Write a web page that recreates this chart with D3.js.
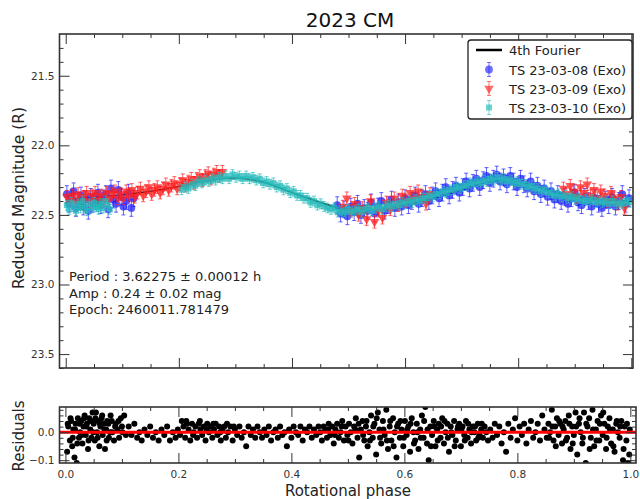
<!DOCTYPE html>
<html>
<head>
<meta charset="utf-8">
<script src="https://cdn.jsdelivr.net/npm/d3@7"></script>
<style>
  body { margin: 0; background: #fff; }
  svg { font-family: "DejaVu Sans", sans-serif; }
</style>
</head>
<body>
<svg id="chart" width="640" height="499"></svg>
<script>
// series names and errors
const seriesNames = ["TS 23-03-08 (Exo)", "TS 23-03-09 (Exo)", "TS 23-03-10 (Exo)"]
const seriesErr = [0.06, 0.045, 0.035]

// 4th order Fourier fit
const fitPhase = [0, 0.05, 0.1, 0.15, 0.2, 0.25, 0.3, 0.35, 0.4, 0.45, 0.5, 0.55, 0.6, 0.65, 0.7, 0.75, 0.8, 0.85, 0.9, 0.95, 1.0]
const fitMag = [22.395, 22.375, 22.355, 22.33, 22.295, 22.255, 22.235, 22.265, 22.34, 22.41, 22.47, 22.46, 22.425, 22.38, 22.32, 22.26, 22.265, 22.32, 22.37, 22.395, 22.40]

// [phase, magnitude]
const bluePoints = [
  [0.002,22.35],[0.006,22.42],[0.010,22.38],[0.014,22.33],[0.018,22.45],[0.022,22.40],[0.027,22.36],[0.031,22.44],
  [0.035,22.39],[0.040,22.47],[0.044,22.37],[0.048,22.42],[0.053,22.40],[0.057,22.34],[0.062,22.43],[0.066,22.38],
  [0.071,22.35],[0.075,22.46],[0.080,22.31],[0.084,22.39],[0.089,22.42],[0.093,22.32],[0.098,22.37],[0.102,22.44],
  [0.107,22.40],[0.111,22.34],[0.116,22.45],[0.120,22.38],
  [0.480,22.43],[0.486,22.49],[0.492,22.46],[0.498,22.51],[0.504,22.44],[0.510,22.48],[0.516,22.42],[0.522,22.50],
  [0.528,22.45],[0.534,22.47],[0.540,22.41],[0.546,22.49],[0.552,22.44],[0.558,22.40],[0.564,22.47],[0.570,22.43],
  [0.576,22.39],[0.582,22.45],[0.588,22.41],[0.594,22.44],[0.600,22.38],[0.606,22.43],[0.612,22.40],[0.618,22.36],
  [0.624,22.42],[0.630,22.38],[0.636,22.35],[0.642,22.40],[0.648,22.36],[0.654,22.33],[0.660,22.38],[0.666,22.34],
  [0.672,22.30],[0.678,22.36],[0.684,22.32],[0.690,22.29],[0.696,22.34],[0.702,22.30],[0.708,22.26],[0.714,22.31],
  [0.720,22.27],[0.726,22.24],[0.732,22.30],[0.738,22.25],[0.744,22.22],[0.750,22.27],[0.756,22.24],[0.762,22.21],
  [0.768,22.26],[0.774,22.23],[0.780,22.28],[0.786,22.22],[0.792,22.26],[0.798,22.30],[0.804,22.24],[0.810,22.28],
  [0.816,22.31],[0.822,22.26],[0.828,22.33],[0.834,22.29],[0.840,22.35],[0.846,22.31],[0.852,22.37],[0.858,22.33],
  [0.864,22.39],[0.870,22.35],[0.876,22.40],[0.882,22.37],[0.888,22.42],[0.894,22.38],[0.900,22.34],[0.906,22.41],
  [0.912,22.43],[0.918,22.37],[0.924,22.40],[0.930,22.44],[0.936,22.38],[0.942,22.42],[0.948,22.45],[0.954,22.39],
  [0.960,22.43],[0.966,22.37],[0.972,22.44],[0.978,22.40],[0.984,22.35],[0.990,22.42],[0.996,22.38]
]

const redPoints = [
  [0.002,22.37],[0.007,22.40],[0.012,22.36],[0.017,22.39],[0.022,22.35],[0.027,22.41],[0.032,22.37],[0.037,22.34],
  [0.042,22.40],[0.047,22.36],[0.052,22.34],[0.057,22.39],[0.062,22.36],[0.067,22.40],[0.072,22.34],[0.077,22.38],
  [0.082,22.35],[0.087,22.33],[0.092,22.38],[0.097,22.35],[0.102,22.38],[0.107,22.33],[0.112,22.36],[0.117,22.32],
  [0.122,22.37],[0.127,22.34],[0.132,22.31],[0.137,22.36],[0.142,22.33],[0.147,22.30],[0.152,22.35],[0.157,22.32],
  [0.162,22.30],[0.167,22.34],[0.172,22.31],[0.177,22.28],[0.182,22.32],[0.187,22.29],[0.192,22.27],[0.197,22.31],
  [0.202,22.28],[0.207,22.25],[0.212,22.29],[0.217,22.26],[0.222,22.24],[0.227,22.27],[0.232,22.24],[0.237,22.22],
  [0.242,22.25],[0.247,22.22],[0.252,22.20],[0.257,22.24],[0.262,22.21],[0.267,22.19],[0.272,22.22],[0.277,22.19],
  [0.490,22.44],[0.497,22.38],[0.504,22.47],[0.511,22.42],[0.518,22.50],[0.525,22.45],[0.532,22.53],[0.539,22.40],
  [0.546,22.55],[0.553,22.47],[0.560,22.52],[0.567,22.41],[0.574,22.46],[0.581,22.38],[0.588,22.43],[0.595,22.36],
  [0.602,22.40],[0.609,22.34],[0.616,22.38],[0.623,22.33],[0.630,22.37],[0.637,22.42],[0.644,22.35],
  [0.880,22.31],[0.886,22.35],[0.892,22.29],[0.898,22.33],[0.904,22.37],[0.910,22.30],[0.916,22.34],[0.922,22.28],
  [0.928,22.36],[0.934,22.32],[0.940,22.38],[0.946,22.33],[0.952,22.36],[0.958,22.40],[0.964,22.34],[0.970,22.38],
  [0.976,22.42],[0.982,22.37],[0.988,22.45]
]

const cyanPoints = [
  [0.002,22.43],[0.006,22.46],[0.010,22.41],[0.014,22.44],[0.018,22.47],[0.022,22.42],[0.026,22.45],[0.030,22.40],
  [0.034,22.44],[0.038,22.47],[0.042,22.42],[0.046,22.45],[0.050,22.41],[0.054,22.44],[0.058,22.46],[0.062,22.42],
  [0.066,22.45],[0.070,22.40],[0.074,22.43],[0.078,22.46],
  [0.205,22.32],[0.211,22.30],[0.217,22.31],[0.223,22.28],[0.229,22.29],[0.235,22.26],[0.241,22.27],[0.247,22.25],
  [0.253,22.26],[0.259,22.24],[0.265,22.25],[0.271,22.23],[0.277,22.24],[0.283,22.22],[0.289,22.24],[0.295,22.21],
  [0.301,22.23],[0.307,22.22],[0.313,22.24],[0.319,22.22],[0.325,22.24],[0.331,22.23],[0.337,22.25],[0.343,22.24],
  [0.349,22.27],[0.355,22.26],[0.361,22.28],[0.367,22.27],[0.373,22.30],[0.379,22.29],[0.385,22.32],[0.391,22.31],
  [0.397,22.34],[0.403,22.33],[0.409,22.36],[0.415,22.36],[0.421,22.38],[0.427,22.38],[0.433,22.41],[0.439,22.40],
  [0.445,22.43],[0.451,22.42],[0.457,22.44],[0.463,22.45],[0.469,22.46],[0.475,22.45],[0.481,22.48],[0.487,22.47],
  [0.493,22.48],[0.499,22.46],[0.505,22.48],[0.511,22.47],[0.517,22.46],[0.523,22.48],[0.529,22.46],[0.535,22.45],
  [0.541,22.47],[0.547,22.45],[0.553,22.44],[0.559,22.46],[0.565,22.44],[0.571,22.43],[0.577,22.44],[0.583,22.42],
  [0.589,22.43],[0.595,22.41],[0.601,22.42],[0.607,22.40],[0.613,22.41],[0.619,22.39],[0.625,22.40],[0.631,22.38],
  [0.637,22.38],[0.643,22.36],[0.649,22.37],[0.655,22.35],[0.661,22.35],[0.667,22.33],[0.673,22.34],[0.679,22.32],
  [0.685,22.32],[0.691,22.30],[0.697,22.31],[0.703,22.29],[0.709,22.29],[0.715,22.27],[0.721,22.28],[0.727,22.26],
  [0.733,22.27],[0.739,22.25],[0.745,22.26],[0.751,22.24],[0.757,22.25],[0.763,22.23],[0.769,22.25],[0.775,22.24],
  [0.781,22.26],[0.787,22.25],[0.793,22.27],[0.799,22.26],[0.805,22.28],[0.811,22.28],[0.817,22.30],[0.823,22.29],
  [0.829,22.31],[0.835,22.31],[0.841,22.33],[0.847,22.32],[0.853,22.34],[0.859,22.34],[0.865,22.36],[0.871,22.35],
  [0.877,22.37],[0.883,22.36],[0.889,22.38],[0.895,22.37],[0.901,22.39],[0.907,22.38],[0.913,22.40],[0.919,22.39],
  [0.925,22.40],[0.931,22.39],[0.937,22.41],[0.943,22.40],[0.949,22.41],[0.955,22.40],[0.961,22.42],[0.967,22.40],
  [0.973,22.42],[0.979,22.41],[0.985,22.42],[0.991,22.40],[0.997,22.41]
]

// residuals panel, [phase, residual]
const residuals = [
  [0.003,-0.07],[0.005,0.02],[0.008,-0.03],[0.010,0.04],[0.012,-0.05],[0.014,0.01],[0.016,-0.09],[0.018,0.03],
  [0.020,-0.11],[0.022,0.05],[0.024,-0.02],[0.026,0.00],[0.028,0.04],[0.030,-0.04],[0.032,0.02],[0.034,0.06],
  [0.036,-0.01],[0.038,0.03],[0.040,-0.06],[0.042,0.05],[0.044,0.01],[0.046,-0.02],[0.048,0.07],[0.050,0.03],
  [0.052,-0.03],[0.054,0.07],[0.056,0.00],[0.058,0.04],[0.060,-0.05],[0.062,0.02],[0.064,0.05],[0.066,-0.01],
  [0.068,0.03],[0.070,-0.06],[0.072,0.01],[0.074,0.04],[0.077,-0.02],[0.080,0.06],[0.083,0.00],[0.086,-0.03],
  [0.089,0.03],[0.092,0.01],[0.095,-0.02],[0.098,0.05],[0.101,0.00],[0.104,0.06],[0.107,-0.01],
  [0.004,0.03],[0.009,0.05],[0.013,-0.02],[0.017,0.01],[0.021,-0.04],[0.025,0.03],[0.029,-0.01],[0.033,0.05],
  [0.037,0.02],[0.041,-0.03],[0.045,0.04],[0.049,0.00],[0.053,0.05],[0.057,-0.02],[0.061,0.03],[0.065,0.06],
  [0.069,0.01],[0.073,-0.03],[0.076,0.03],[0.079,0.00],[0.082,0.04],[0.088,0.02],[0.094,0.04],[0.100,0.02],
  [0.112,0.02],[0.117,-0.01],[0.122,0.03],[0.127,-0.02],[0.131,0.00],[0.135,-0.03],[0.140,0.01],[0.145,-0.01],
  [0.150,0.02],[0.155,-0.02],[0.160,0.00],[0.165,-0.03],[0.170,0.01],[0.175,-0.01],[0.180,0.02],[0.185,-0.03],
  [0.190,0.00],[0.195,-0.02],[0.199,0.01],
  [0.203,-0.01],[0.206,0.04],[0.209,0.02],[0.212,-0.02],[0.215,0.03],[0.218,0.01],[0.221,-0.03],[0.224,0.03],
  [0.227,0.00],[0.230,0.02],[0.233,-0.02],[0.236,0.03],[0.239,0.01],[0.242,-0.01],[0.245,0.02],[0.248,-0.03],
  [0.251,0.03],[0.254,0.00],[0.257,0.02],[0.260,-0.02],[0.263,0.01],[0.266,0.03],[0.269,-0.01],[0.272,0.02],
  [0.275,-0.03],[0.278,0.01],[0.281,0.02],[0.284,-0.02],[0.288,0.00],[0.292,0.02],[0.296,-0.03],[0.300,0.01],
  [0.214,0.04],[0.226,-0.01],[0.238,0.04],[0.250,0.01],[0.262,0.03],[0.274,0.00],[0.286,0.03],[0.298,0.02],
  [0.304,-0.01],[0.308,0.02],[0.312,-0.02],[0.316,0.00],[0.320,-0.05],[0.324,0.02],[0.328,-0.01],[0.332,0.01],
  [0.336,-0.02],[0.340,0.02],[0.344,0.00],[0.348,-0.02],[0.352,0.01],[0.356,-0.01],[0.360,0.02],[0.364,-0.03],
  [0.368,0.00],[0.372,0.01],[0.376,-0.02],[0.380,0.02],[0.384,-0.01],[0.388,0.00],[0.392,-0.05],[0.396,0.01],
  [0.400,-0.02],[0.404,0.02],[0.408,0.00],[0.412,-0.01],[0.416,0.02],[0.420,-0.03],[0.424,0.01],[0.428,0.00],
  [0.432,0.02],[0.436,-0.02],[0.440,0.01],[0.444,-0.01],[0.448,0.02],
  [0.451,0.00],[0.454,-0.03],[0.457,0.02],[0.460,0.01],[0.463,-0.02],[0.466,0.03],[0.469,-0.01],[0.472,0.02],
  [0.475,-0.04],[0.478,0.01],[0.481,0.03],[0.484,-0.02],[0.487,0.00],[0.490,0.04],[0.493,-0.03],[0.496,0.02],
  [0.499,-0.01],[0.502,0.03],[0.505,0.00],[0.508,-0.04],[0.511,0.02],[0.514,0.05],[0.517,-0.02],[0.520,-0.09],
  [0.523,0.01],[0.526,0.04],[0.529,-0.03],[0.532,0.02],[0.535,-0.05],[0.538,0.00],[0.541,0.06],[0.544,-0.02],
  [0.547,0.03],[0.550,-0.08],[0.553,0.07],[0.556,0.01],[0.559,-0.04],[0.562,0.04],[0.565,-0.01],[0.568,0.08],
  [0.571,-0.06],[0.574,0.02],[0.577,-0.03],[0.580,0.05],[0.583,0.00],[0.586,-0.09],[0.589,0.03],[0.592,-0.02],
  [0.595,0.01],[0.598,-0.05],[0.601,0.04],[0.604,-0.01],[0.607,0.02],[0.610,-0.07],[0.613,0.05],[0.616,0.00],
  [0.619,-0.03],[0.622,0.03],[0.625,-0.06],[0.628,0.01],[0.631,0.06],[0.634,-0.02],[0.637,0.09],[0.640,-0.04],
  [0.643,-0.10],[0.646,0.02],[0.649,-0.01],[0.652,0.04],[0.655,-0.05],[0.658,0.01],[0.661,0.03],[0.664,-0.02],
  [0.667,0.05],[0.670,-0.04],[0.673,0.00],[0.676,0.03],[0.679,-0.07],[0.682,0.02],[0.685,-0.01],[0.688,0.04],
  [0.691,-0.03],[0.694,0.01],[0.697,0.03],[0.700,-0.05],[0.703,0.02],[0.706,-0.01],[0.709,0.04],[0.712,-0.02],
  [0.715,0.01],[0.718,-0.04],[0.721,0.02],[0.724,0.00],[0.727,-0.03],[0.730,0.03],[0.733,-0.01],[0.736,0.01],
  [0.739,-0.02],[0.742,0.02],[0.745,0.00],[0.748,-0.03],
  [0.465,0.01],[0.477,-0.01],[0.489,0.02],[0.501,-0.03],[0.513,0.01],[0.519,0.03],[0.527,-0.01],[0.533,0.04],
  [0.539,-0.03],[0.545,0.02],[0.551,0.05],[0.557,-0.02],[0.563,0.01],[0.569,-0.03],[0.575,0.04],[0.581,-0.05],
  [0.587,0.02],[0.593,0.04],[0.599,-0.02],[0.605,0.01],[0.611,0.03],[0.617,-0.04],[0.623,0.00],[0.629,-0.02],
  [0.635,0.04],[0.641,0.01],[0.647,-0.05],[0.653,0.02],[0.659,-0.03],[0.665,0.02],[0.671,0.04],[0.677,-0.02],
  [0.683,0.00],[0.689,-0.05],[0.695,0.02],[0.701,0.01],[0.707,-0.03],[0.713,0.03],[0.719,0.00],[0.725,0.02],
  [0.731,-0.02],[0.737,0.03],
  [0.752,0.01],[0.756,-0.02],[0.760,0.03],[0.764,-0.01],[0.768,0.02],[0.772,-0.04],[0.776,0.00],[0.780,-0.07],
  [0.784,0.03],[0.788,-0.02],[0.792,0.01],[0.796,0.05],[0.800,-0.03],[0.804,0.02],[0.808,-0.01],[0.812,0.03],
  [0.816,-0.04],[0.820,0.01],[0.824,0.04],[0.828,-0.02],[0.832,0.00],[0.836,0.03],[0.840,-0.03],[0.844,0.06],
  [0.848,0.01],[0.852,-0.02],
  [0.855,0.03],[0.858,0.00],[0.861,0.08],[0.864,-0.03],[0.867,0.02],[0.870,0.05],[0.873,-0.01],[0.876,0.03],
  [0.879,-0.04],[0.882,0.01],[0.885,0.04],[0.888,-0.02],[0.891,0.06],[0.894,-0.06],[0.897,0.02],[0.900,-0.01],
  [0.903,0.07],[0.906,-0.08],[0.909,0.03],[0.912,0.00],[0.915,-0.04],[0.918,0.07],[0.921,-0.11],[0.924,0.02],
  [0.927,0.05],[0.930,-0.02],[0.933,0.08],[0.936,-0.05],[0.939,0.01],[0.942,0.04],[0.945,-0.03],[0.948,0.06],
  [0.951,-0.01],[0.954,0.03],[0.957,-0.06],[0.960,0.02],[0.963,0.05],[0.966,-0.04],[0.969,0.01],[0.972,-0.07],
  [0.975,0.03],[0.978,0.00],[0.981,-0.02],[0.984,0.04],[0.987,-0.10],[0.990,0.02],[0.993,-0.03],[0.996,-0.11],
  [0.999,0.01],
  [0.856,-0.02],[0.862,0.02],[0.868,-0.05],[0.874,0.04],[0.880,0.02],[0.886,-0.03],[0.892,0.03],[0.898,-0.04],
  [0.904,0.02],[0.910,0.05],[0.916,-0.02],[0.922,0.03],[0.928,-0.06],[0.934,0.01],[0.940,-0.03],[0.946,0.03],
  [0.952,0.07],[0.958,-0.02],[0.964,0.01],[0.970,-0.05],[0.976,0.04],[0.982,0.02],[0.988,-0.06],[0.994,0.03],
  [0.998,-0.08]
]

const xTicks = [0, 0.2, 0.4, 0.6, 0.8, 1.0]
const yTicks = [21.5, 22.0, 22.5, 23.0, 23.5]
const resTicks = [0.0, -0.1]
const infoLines = ["Period : 3.62275 \u00b1 0.00012 h", "Amp : 0.24 \u00b1 0.02 mag", "Epoch: 2460011.781479"]

const colors = ["#2020ff", "#ff2020", "#25baba"]

const svg = d3.select("#chart")

const main = { left: 59.5, right: 633, top: 34, bottom: 368 }
const res = { left: 59.5, right: 636, top: 407, bottom: 463 }

const x = d3.scaleLinear().domain([-0.011, 1.003]).range([main.left, main.right])
const y = d3.scaleLinear().domain([21.2, 23.6]).range([main.top, main.bottom])
const xr = d3.scaleLinear().domain([-0.0105, 1.01]).range([res.left, res.right])
const yr = d3.scaleLinear().domain([0.09, -0.11]).range([res.top, res.bottom])

function styleAxis(g) {
  g.select(".domain").remove()
  g.selectAll(".tick line").attr("stroke", "#333").attr("stroke-width", 1)
  g.selectAll(".tick text").attr("fill", "#333").attr("font-size", 10.5)
    .attr("font-family", "DejaVu Sans, sans-serif")
}

function addAxes(xs, ys, box, yMajor, yMinor, xLabels, yFmt) {
  const xMinor = d3.range(0, 1.001, 0.05).filter(v => Math.abs(v * 5 - Math.round(v * 5)) > 1e-6)
  svg.append("g").attr("transform", `translate(0,${box.bottom})`)
    .call(d3.axisBottom(xs).tickValues(xTicks).tickSize(-10).tickPadding(8)
      .tickFormat(xLabels ? d3.format(".1f") : ""))
    .call(styleAxis)
  svg.append("g").attr("transform", `translate(0,${box.bottom})`)
    .call(d3.axisBottom(xs).tickValues(xMinor).tickSize(-4).tickFormat(""))
    .call(styleAxis)
  svg.append("g").attr("transform", `translate(0,${box.top})`)
    .call(d3.axisTop(xs).tickValues(xTicks).tickSize(-10).tickFormat(""))
    .call(styleAxis)
  svg.append("g").attr("transform", `translate(0,${box.top})`)
    .call(d3.axisTop(xs).tickValues(xMinor).tickSize(-4).tickFormat(""))
    .call(styleAxis)
  svg.append("g").attr("transform", `translate(${box.left},0)`)
    .call(d3.axisLeft(ys).tickValues(yMajor).tickSize(-10).tickPadding(5).tickFormat(yFmt))
    .call(styleAxis)
  svg.append("g").attr("transform", `translate(${box.left},0)`)
    .call(d3.axisLeft(ys).tickValues(yMinor).tickSize(-4).tickFormat(""))
    .call(styleAxis)
  svg.append("g").attr("transform", `translate(${box.right},0)`)
    .call(d3.axisRight(ys).tickValues(yMajor).tickSize(-10).tickFormat(""))
    .call(styleAxis)
  svg.append("g").attr("transform", `translate(${box.right},0)`)
    .call(d3.axisRight(ys).tickValues(yMinor).tickSize(-4).tickFormat(""))
    .call(styleAxis)
  svg.append("rect")
    .attr("x", box.left).attr("y", box.top)
    .attr("width", box.right - box.left).attr("height", box.bottom - box.top)
    .attr("fill", "none").attr("stroke", "#333").attr("stroke-width", 1.6)
}

// clip for main panel
svg.append("clipPath").attr("id", "clipMain").append("rect")
  .attr("x", main.left).attr("y", main.top)
  .attr("width", main.right - main.left).attr("height", main.bottom - main.top)

const plot = svg.append("g").attr("clip-path", "url(#clipMain)")

// fit line underneath the points
const fitLine = d3.line()
  .x(d => x(d[0])).y(d => y(d[1]))
  .curve(d3.curveCatmullRom)

plot.append("path")
  .datum(d3.zip(fitPhase, fitMag))
  .attr("d", fitLine)
  .attr("fill", "none").attr("stroke", "#000").attr("stroke-width", 1.6)

const symbols = [
  d3.symbol(d3.symbolCircle, 48),
  d3.symbol(d3.symbolTriangle, 40),
  d3.symbol(d3.symbolSquare, 36)
]

function errorPath(px, py1, py2) {
  return `M${px},${py1}V${py2}M${px - 2},${py1}H${px + 2}M${px - 2},${py2}H${px + 2}`
}

const allSeries = [bluePoints, redPoints, cyanPoints]

allSeries.forEach((pts, i) => {
  const g = plot.append("g").attr("fill", colors[i]).attr("stroke", colors[i])
  g.selectAll("path.err")
    .data(pts)
    .enter()
    .append("path")
    .attr("class", "err")
    .attr("d", d => errorPath(x(d[0]), y(d[1] - seriesErr[i]), y(d[1] + seriesErr[i])))
    .attr("fill", "none")
    .attr("stroke-width", 1)
    .attr("stroke-opacity", 0.7)
  g.selectAll("path.mk")
    .data(pts)
    .enter()
    .append("path")
    .attr("class", "mk")
    .attr("d", symbols[i])
    .attr("transform", d => `translate(${x(d[0])},${y(d[1])})` + (i === 1 ? " rotate(180)" : ""))
    .attr("stroke", "none")
    .attr("fill-opacity", 0.75)
})

addAxes(x, y, main, yTicks, d3.range(21.3, 23.61, 0.1).filter(v => Math.abs(v * 2 - Math.round(v * 2)) > 1e-6),
  false, d3.format(".1f"))

// info text
svg.append("g").selectAll("text")
  .data(infoLines)
  .enter()
  .append("text")
  .attr("x", 69)
  .attr("y", (d, i) => 281 + i * 16.5)
  .attr("font-size", 13)
  .attr("fill", "#222")
  .text(d => d)

// legend
const legend = svg.append("g")
legend.append("rect")
  .attr("x", 468).attr("y", 40).attr("width", 164).attr("height", 79).attr("rx", 3)
  .attr("fill", "#fff").attr("stroke", "#222").attr("stroke-width", 1.3)
legend.append("line")
  .attr("x1", 476).attr("x2", 502).attr("y1", 50).attr("y2", 50)
  .attr("stroke", "#000").attr("stroke-width", 2.5)
legend.append("text").attr("x", 509).attr("y", 55).attr("font-size", 13).attr("fill", "#222")
  .text("4th Fourier")
seriesNames.forEach((name, i) => {
  const cy = 69.5 + i * 19
  legend.append("path")
    .attr("d", errorPath(489, cy - 7, cy + 7))
    .attr("fill", "none").attr("stroke", colors[i]).attr("stroke-opacity", 0.6)
  legend.append("path")
    .attr("d", symbols[i])
    .attr("transform", `translate(489,${cy})` + (i === 1 ? " rotate(180)" : ""))
    .attr("fill", colors[i]).attr("fill-opacity", 0.65)
  legend.append("text").attr("x", 509).attr("y", cy + 5).attr("font-size", 13).attr("fill", "#222")
    .text(name)
})

// residual panel
svg.append("clipPath").attr("id", "clipRes").append("rect")
  .attr("x", res.left).attr("y", res.top)
  .attr("width", res.right - res.left).attr("height", res.bottom - res.top)

const rplot = svg.append("g").attr("clip-path", "url(#clipRes)")
rplot.selectAll("circle")
  .data(residuals)
  .enter()
  .append("circle")
  .attr("cx", d => xr(d[0]))
  .attr("cy", d => yr(d[1]))
  .attr("r", 3)
  .attr("fill", "#000")
rplot.append("line")
  .attr("x1", res.left).attr("x2", res.right)
  .attr("y1", yr(0)).attr("y2", yr(0))
  .attr("stroke", "#ff0000").attr("stroke-width", 3)

addAxes(xr, yr, res, resTicks, d3.range(-0.1, 0.09, 0.02).filter(v => Math.abs(v * 10 - Math.round(v * 10)) > 1e-6),
  true, d3.format(".1f"))

// titles
svg.append("text").attr("x", 350).attr("y", 27).attr("text-anchor", "middle")
  .attr("font-size", 20).attr("fill", "#111").text("2023 CM")
svg.append("text").attr("transform", "translate(24,198) rotate(-90)").attr("text-anchor", "middle")
  .attr("font-size", 15.5).attr("fill", "#222").text("Reduced Magnitude (R)")
svg.append("text").attr("transform", "translate(24,436) rotate(-90)").attr("text-anchor", "middle")
  .attr("font-size", 15).attr("fill", "#222").text("Residuals")
svg.append("text").attr("x", 348).attr("y", 496).attr("text-anchor", "middle")
  .attr("font-size", 15).attr("fill", "#222").text("Rotational phase")
</script>
</body>
</html>
